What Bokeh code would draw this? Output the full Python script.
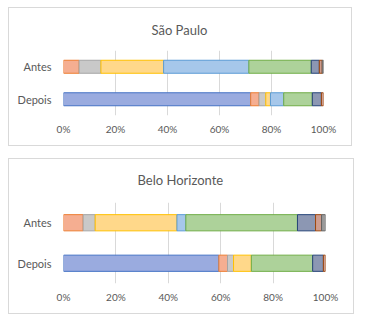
import numpy as np
from bokeh.plotting import figure
from bokeh.models import ColumnDataSource, FactorRange, Range1d, NumeralTickFormatter, FixedTicker, Column
from bokeh.embed import file_html
from bokeh.resources import INLINE

# ---- data ----
categories = ["Depois", "Antes"]
series = ["Série 1", "Série 2", "Série 3", "Série 4", "Série 5", "Série 6", "Série 7", "Série 8", "Série 9"]
line_colors = ["#4472C4", "#ED7D31", "#A5A5A5", "#FFC000", "#5B9BD5", "#70AD47", "#264478", "#9E480E", "#636363"]
fill_colors = ["#9AABDF", "#F5AE91", "#C9C9C9", "#FFD88A", "#A6C7EA", "#ADD29A", "#8C97B3", "#CE9C8E", "#9A9A9A"]

sp_antes = [0.0, 6.0, 8.4, 24.1, 32.8, 24.0, 3.1, 1.1, 0.5]
sp_depois = [72.0, 3.2, 2.6, 1.8, 5.1, 11.0, 3.5, 0.8, 0.0]
bh_antes = [0.0, 7.5, 4.6, 31.2, 3.4, 42.6, 6.9, 2.3, 1.5]
bh_depois = [59.3, 3.3, 2.3, 6.8, 0.0, 23.4, 4.1, 0.8, 0.0]

x_ticks = [0, 0.2, 0.4, 0.6, 0.8, 1.0]

FONT = "Lato"
TXT = "#595959"
GRID = "#D9D9D9"


def make_panel(title, antes, depois, w, h, right_border, frame_h, title_off, title_standoff, margin):
    p = figure(width=w, height=h, y_range=FactorRange(*categories, range_padding=0),
               x_range=Range1d(0, 1), output_backend="svg", toolbar_location=None,
               title=title,
               min_border_left=54, min_border_right=right_border,
               min_border_top=h - 32 - frame_h, min_border_bottom=32,
               outline_line_color=None, margin=margin,
               styles={"border": "1px solid #D9D9D9", "box-sizing": "border-box"})
    p.background_fill_color = "white"
    p.border_fill_color = "white"
    p.title.align = "left"
    p.title.vertical_align = "top"
    p.title.offset = title_off
    p.title.text_font = FONT
    p.title.text_font_size = "13px"
    p.title.text_font_style = "normal"
    p.title.text_color = TXT
    p.title.standoff = title_standoff
    # stacked segments
    vals = {"Antes": np.array(antes) / 100.0, "Depois": np.array(depois) / 100.0}
    cum = {k: np.concatenate([[0.0], np.cumsum(v)]) for k, v in vals.items()}
    for i, name in enumerate(series):
        ys, ls, rs = [], [], []
        for cat in categories:
            if vals[cat][i] > 0:
                ys.append(cat)
                ls.append(cum[cat][i])
                rs.append(cum[cat][i + 1])
        if not ys:
            continue
        src = ColumnDataSource(dict(y=ys, left=ls, right=rs))
        p.hbar(y="y", left="left", right="right", height=0.4, source=src,
               fill_color=fill_colors[i], line_color=line_colors[i], line_width=1)
    # axes
    p.xaxis.ticker = FixedTicker(ticks=x_ticks)
    p.xaxis.formatter = NumeralTickFormatter(format="0%")
    p.xaxis.axis_line_color = None
    p.xaxis.major_tick_line_color = None
    p.xaxis.minor_tick_line_color = None
    p.xaxis.major_tick_out = 0
    p.xaxis.major_tick_in = 0
    p.xaxis.minor_tick_out = 0
    p.xaxis.major_label_standoff = 7
    p.xaxis.major_label_text_font = FONT
    p.xaxis.major_label_text_font_size = "10px"
    p.xaxis.major_label_text_color = TXT
    p.yaxis.axis_line_color = None
    p.yaxis.major_tick_line_color = None
    p.yaxis.minor_tick_line_color = None
    p.yaxis.major_tick_out = 0
    p.yaxis.major_tick_in = 0
    p.yaxis.major_label_standoff = 12
    p.yaxis.major_label_text_font = FONT
    p.yaxis.major_label_text_font_size = "11px"
    p.yaxis.major_label_text_color = TXT
    p.xgrid.grid_line_color = GRID
    p.ygrid.grid_line_color = None
    return p


p1 = make_panel("São Paulo", sp_antes, sp_depois, 344, 139, 29, 65, 88, 22, (7, 0, 0, 8))
p2 = make_panel("Belo Horizonte", bh_antes, bh_depois, 346, 156, 30, 83, 74, 25, (12, 0, 0, 8))

layout = Column(p1, p2, spacing=0)
open("out.html", "w").write(file_html(layout, INLINE))
